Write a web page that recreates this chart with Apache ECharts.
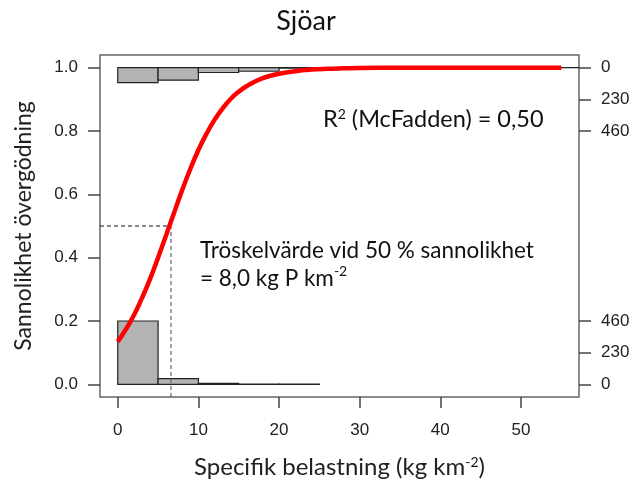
<!DOCTYPE html>
<html><head><meta charset="utf-8">
<script src="https://cdn.jsdelivr.net/npm/echarts@6/dist/echarts.min.js"></script>
<style>html,body{margin:0;padding:0;background:#fff}#c{width:640px;height:484px}</style>
</head><body><div id="c"></div>
<script>
// ---- data ----
const curveX = [0,1,2,3,4,5,6,7,8,9,10,11,12,13,14,15,16,17,18,19,20,22,24,26,28,30,35,40,45,50,55];
const curveY = [0.135,0.173,0.218,0.272,0.332,0.400,0.471,0.543,0.614,0.680,0.740,0.791,0.835,0.871,0.901,0.924,0.942,0.956,0.967,0.975,0.981,0.989,0.994,0.9966,0.998,0.999,0.9998,1,1,1,1];
const binEdges = [0,5,10,15,20,25,30,35,40,45,50,55,60];
const topCounts = [108,91,35,26,4,0,0,0,0,0,0,0];
const bottomCounts = [460,41,8,2,1];
const histMaxCount = 460;
const histMaxHeight = 0.2;
const threshold = 6.6;
const xTicks = [0,10,20,30,40,50];
const yTicks = [0,0.2,0.4,0.6,0.8,1.0];
const rightTickPos = [0,0.1,0.2,0.8,0.9,1.0];
const rightTickLabels = ['0','230','460','460','230','0'];
const xMin = -2.2, xMax = 57.2, yMin = -0.04, yMax = 1.04;

const curveData = curveX.map((x,i)=>[x,curveY[i]]);
const topData = topCounts.map((c,i)=>[binEdges[i],binEdges[i+1],c]);
const botData = bottomCounts.map((c,i)=>[binEdges[i],binEdges[i+1],c]);

function histRender(isTop){
  return function(params, api){
    const x0 = api.value(0), x1 = api.value(1), c = api.value(2);
    const h = c / histMaxCount * histMaxHeight;
    const yA = isTop ? 1 : 0, yB = isTop ? 1 - h : h;
    const p0 = api.coord([x0, yA]), p1 = api.coord([x1, yB]);
    return {
      type:'rect',
      shape:{x:p0[0], y:Math.min(p0[1],p1[1]), width:p1[0]-p0[0], height:Math.max(Math.abs(p1[1]-p0[1]),0.01)},
      style:{fill:'#b3b3b3', stroke:'#222', lineWidth:1.2}
    };
  };
}

const tickFont = {fontFamily:'Liberation Sans', fontSize:17, color:'#222'};
const supStyle = {fontFamily:'Lato', fontSize:14, color:'#111', fill:'#111', verticalAlign:'top', padding:[0,0,11,0]};
const chart = echarts.init(document.getElementById('c'), null, {renderer:'canvas'});
chart.setOption({
  animation:false,
  grid:{left:100, right:61, top:55, bottom:87, outerBoundsMode:'none', containLabel:false, show:true, borderColor:'#666', borderWidth:1.5, backgroundColor:'transparent'},
  xAxis:{type:'value', min:xMin, max:xMax,
    axisLine:{show:false, onZero:false}, splitLine:{show:false},
    axisTick:{show:true, inside:false, length:11, customValues:xTicks, lineStyle:{color:'#444', width:1.5}},
    axisLabel:{customValues:xTicks, margin:25, ...tickFont},
    name:'Specifik belastning (kg km{sup|-2})', nameLocation:'middle', nameGap:58,
    nameTextStyle:{fontFamily:'Lato', fontSize:24, color:'#222', rich:{sup:supStyle}}
  },
  yAxis:[
    {type:'value', min:yMin, max:yMax, position:'left',
      axisLine:{show:false, onZero:false}, splitLine:{show:false},
      axisTick:{show:true, inside:false, length:12, customValues:yTicks, lineStyle:{color:'#444', width:1.5}},
      axisLabel:{customValues:yTicks, margin:22, formatter:v=>v.toFixed(1), ...tickFont},
      name:'Sannolikhet övergödning', nameLocation:'middle', nameGap:65,
      nameTextStyle:{fontFamily:'Lato', fontSize:23, color:'#222'}
    },
    {type:'value', min:yMin, max:yMax, position:'right',
      axisLine:{show:false, onZero:false}, splitLine:{show:false},
      axisTick:{show:true, inside:false, length:12, customValues:rightTickPos, lineStyle:{color:'#444', width:1.5}},
      axisLabel:{customValues:rightTickPos, margin:22, formatter:v=>{const i=rightTickPos.findIndex(p=>Math.abs(p-v)<1e-6);return i>=0?rightTickLabels[i]:'';}, ...tickFont},
      name:'Antal', nameLocation:'middle', nameGap:38, nameRotate:90,
      nameTextStyle:{fontFamily:'Lato', fontSize:23, color:'#222'}
    }
  ],
  graphic:[
    {type:'text', x:306, y:8, style:{text:'Sjöar', fontFamily:'Lato', fontSize:27, fill:'#111', textAlign:'center'}},
    {type:'text', x:323, y:107, style:{text:'R{sup|2} (McFadden) = 0,50', fontFamily:'Lato', fontSize:23.5, fill:'#111', rich:{sup:supStyle}}},
    {type:'text', x:200, y:236, style:{text:'Tröskelvärde vid 50 % sannolikhet\n= 8,0 kg P km{sup|-2}', fontFamily:'Lato', fontSize:22.5, lineHeight:28.5, fill:'#111', rich:{sup:supStyle}}}
  ],
  series:[
    {type:'custom', renderItem:histRender(true), data:topData, clip:true, encode:{x:[0,1]}, z:2},
    {type:'custom', renderItem:histRender(false), data:botData, clip:true, encode:{x:[0,1]}, z:2},
    {type:'line', data:[[xMin,0.5],[threshold,0.5]], symbol:'none', lineStyle:{color:'#111', width:1, type:[4,3]}, z:3},
    {type:'line', data:[[threshold,yMin],[threshold,0.5]], symbol:'none', lineStyle:{color:'#666', width:1.2, type:[4,3]}, z:3},
    {type:'line', data:curveData, smooth:true, symbol:'none', lineStyle:{color:'#ff0000', width:4.5}, z:4}
  ]
});
</script></body></html>
